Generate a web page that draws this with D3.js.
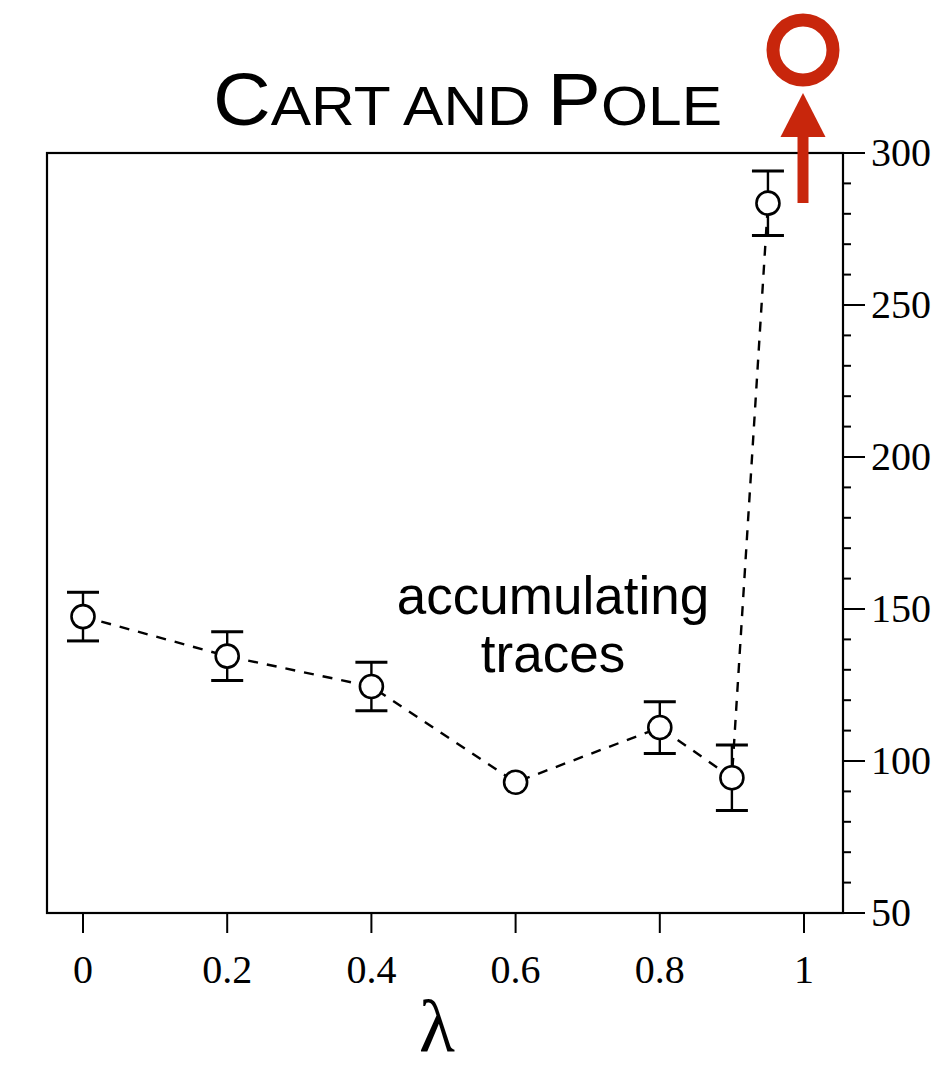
<!DOCTYPE html>
<html>
<head>
<meta charset="utf-8">
<script src="https://cdn.jsdelivr.net/npm/d3@7"></script>
<style>
  html, body { margin: 0; padding: 0; background: #fff; }
  svg { display: block; }
</style>
</head>
<body>
<svg id="chart" width="934" height="1067"></svg>
<script>
// ---- 数据 ----
const lambdas = [0, 0.2, 0.4, 0.6, 0.8, 0.9, 0.95];
const steps   = [147.5, 134.5, 124.5, 93, 111, 94.5, 283.5];
const errs    = [8, 8, 8, 0, 8.5, 10.8, 10.6];
const xTicks  = [0, 0.2, 0.4, 0.6, 0.8, 1];
const yTicks  = [50, 100, 150, 200, 250, 300];
const yMinor  = d3.range(50, 301, 10);
const offChart = { lambda: 1 };   // λ=1 落在图外（红圈标记）

const svg = d3.select("#chart");
const L = 47, R = 843, T = 153, B = 913;
const serif = "'Liberation Serif', 'Times New Roman', serif";
const sans = "'Liberation Sans', Arial, sans-serif";

const x = d3.scaleLinear().domain([0, 1]).range([83, 804]);
const y = d3.scaleLinear().domain([50, 300]).range([B, T]);

// ---- 标题（小型大写）----
const title = svg.append("text").attr("x", 213).attr("y", 125)
  .attr("textLength", 509).attr("lengthAdjust", "spacingAndGlyphs")
  .style("font-family", sans).style("font-size", "56px").attr("fill", "#000");
[["C", 74], ["ART AND ", 56], ["P", 74], ["OLE", 56]].forEach(([t, s]) =>
  title.append("tspan").style("font-size", s + "px").text(t));

// ---- 边框 ----
svg.append("rect").attr("x", L).attr("y", T).attr("width", R - L).attr("height", B - T)
  .attr("fill", "none").attr("stroke", "#000").attr("stroke-width", 2.2);

// ---- 右侧 y 轴刻度 ----
svg.selectAll("line.ymin").data(yMinor).join("line").attr("class", "ymin")
  .attr("x1", R).attr("x2", R + 8).attr("y1", (d) => y(d)).attr("y2", (d) => y(d))
  .attr("stroke", "#000").attr("stroke-width", 2);
svg.selectAll("line.ymaj").data(yTicks).join("line").attr("class", "ymaj")
  .attr("x1", R).attr("x2", R + 22).attr("y1", (d) => y(d)).attr("y2", (d) => y(d))
  .attr("stroke", "#000").attr("stroke-width", 2);
svg.selectAll("text.ylab").data(yTicks).join("text").attr("class", "ylab")
  .attr("x", 871).attr("y", (d) => y(d)).attr("dy", "0.33em")
  .style("font-family", serif).style("font-size", "40px").text((d) => d);

// ---- x 轴刻度 ----
svg.selectAll("line.xt").data(xTicks).join("line").attr("class", "xt")
  .attr("x1", (d) => x(d)).attr("x2", (d) => x(d)).attr("y1", B).attr("y2", B + 20)
  .attr("stroke", "#000").attr("stroke-width", 2);
svg.selectAll("text.xlab").data(xTicks).join("text").attr("class", "xlab")
  .attr("x", (d) => x(d)).attr("y", 983).attr("text-anchor", "middle")
  .style("font-family", serif).style("font-size", "40px").text((d) => d);
svg.append("text").attr("x", 437).attr("y", 1051).attr("text-anchor", "middle")
  .style("font-family", serif).style("font-size", "74px").text("λ");

// ---- 虚线 ----
const pts = lambdas.map((l, i) => [l, steps[i]]);
svg.append("path").datum(pts)
  .attr("d", d3.line().x((d) => x(d[0])).y((d) => y(d[1])))
  .attr("fill", "none").attr("stroke", "#000").attr("stroke-width", 2.4)
  .attr("stroke-dasharray", "10,9");

// ---- 误差棒 ----
const eb = svg.selectAll("g.eb")
  .data(pts.map((p, i) => ({ l: p[0], v: p[1], e: errs[i] })).filter((d) => d.e > 0))
  .join("g").attr("class", "eb");
eb.append("line").attr("x1", (d) => x(d.l)).attr("x2", (d) => x(d.l))
  .attr("y1", (d) => y(d.v - d.e)).attr("y2", (d) => y(d.v + d.e))
  .attr("stroke", "#000").attr("stroke-width", 2.4);
[-1, 1].forEach((s) => {
  eb.append("line").attr("x1", (d) => x(d.l) - 16).attr("x2", (d) => x(d.l) + 16)
    .attr("y1", (d) => y(d.v + s * d.e)).attr("y2", (d) => y(d.v + s * d.e))
    .attr("stroke", "#000").attr("stroke-width", 3);
});

// ---- 圆点 ----
svg.selectAll("circle.pt").data(pts).join("circle").attr("class", "pt")
  .attr("cx", (d) => x(d[0])).attr("cy", (d) => y(d[1])).attr("r", 11.5)
  .attr("fill", "#fff").attr("stroke", "#000").attr("stroke-width", 2.6);

// ---- 注释 ----
const ann = svg.append("text").attr("text-anchor", "middle")
  .style("font-family", sans).style("font-size", "53px").attr("fill", "#000");
ann.append("tspan").attr("x", 553).attr("y", 614).text("accumulating");
ann.append("tspan").attr("x", 553).attr("y", 672).text("traces");

// ---- 红色标记：λ=1 超出图表 ----
const red = "#c8260c";
const rx = x(offChart.lambda) - 1;
svg.append("circle").attr("cx", rx).attr("cy", 50).attr("r", 30)
  .attr("fill", "none").attr("stroke", red).attr("stroke-width", 13);
svg.append("line").attr("x1", rx).attr("x2", rx).attr("y1", 203).attr("y2", 130)
  .attr("stroke", red).attr("stroke-width", 11);
svg.append("path")
  .attr("d", `M${rx},93 L${rx - 22.5},137 L${rx + 22.5},137 Z`)
  .attr("fill", red);
</script>
</body>
</html>
